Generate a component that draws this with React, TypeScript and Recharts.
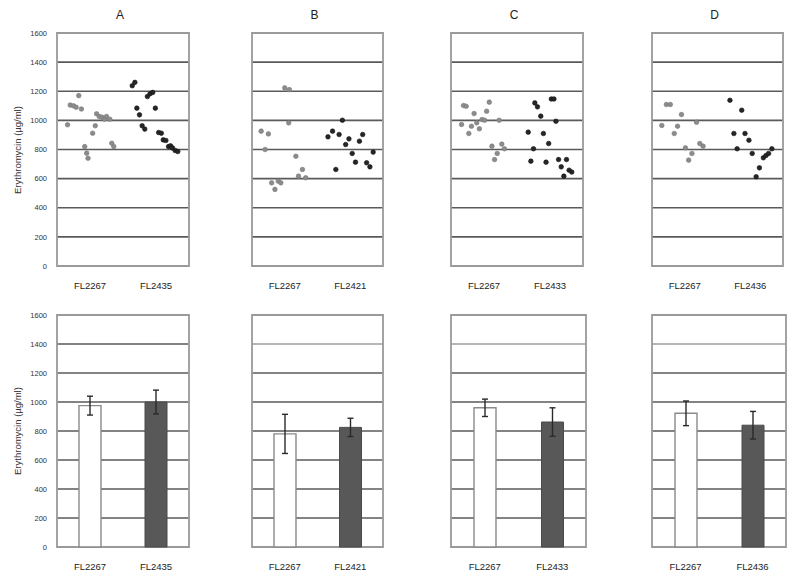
import React from 'react';
import {
  ScatterChart, Scatter, BarChart, Bar, Cell, ErrorBar, XAxis, YAxis,
  CartesianGrid, ReferenceArea,
} from 'recharts';

// ---------- data ----------
const panelTitles = ['A', 'B', 'C', 'D'];
const refStrain = 'FL2267';
const testStrains = ['FL2435', 'FL2421', 'FL2433', 'FL2436'];
const yTicks = [0, 200, 400, 600, 800, 1000, 1200, 1400, 1600];
const yLabel = 'Erythromycin (µg/ml)';

// individual measurements: x = horizontal jitter position (0-100), y = value
const pointsA_ref = [
  { x: 8, y: 970 }, { x: 10, y: 1105 }, { x: 12.5, y: 1100 }, { x: 14.5, y: 1090 },
  { x: 16.5, y: 1170 }, { x: 18.5, y: 1078 }, { x: 21, y: 820 }, { x: 22.5, y: 775 },
  { x: 23.5, y: 740 }, { x: 27, y: 912 }, { x: 29, y: 963 }, { x: 30, y: 1045 },
  { x: 32, y: 1027 }, { x: 34, y: 1022 }, { x: 36, y: 1008 }, { x: 37.5, y: 1027 },
  { x: 40, y: 1008 }, { x: 41.5, y: 843 }, { x: 43, y: 820 },
];
const pointsA_test = [
  { x: 57, y: 1238 }, { x: 59, y: 1261 }, { x: 60.5, y: 1084 }, { x: 62.5, y: 1038 },
  { x: 64.5, y: 963 }, { x: 66.5, y: 940 }, { x: 68.5, y: 1164 }, { x: 70.5, y: 1183 },
  { x: 72.5, y: 1192 }, { x: 74.5, y: 1084 }, { x: 77, y: 917 }, { x: 79, y: 912 },
  { x: 80.5, y: 866 }, { x: 82.5, y: 862 }, { x: 84.5, y: 820 }, { x: 86, y: 825 },
  { x: 87.5, y: 811 }, { x: 89.5, y: 793 }, { x: 91.5, y: 786 },
];
const pointsB_ref = [
  { x: 7, y: 926 }, { x: 10, y: 800 }, { x: 12.5, y: 907 }, { x: 15, y: 571 },
  { x: 17.5, y: 526 }, { x: 20, y: 583 }, { x: 22, y: 571 }, { x: 25, y: 1223 },
  { x: 28.5, y: 1211 }, { x: 28, y: 983 }, { x: 33.5, y: 754 }, { x: 35.5, y: 617 },
  { x: 38.5, y: 663 }, { x: 41, y: 606 },
];
const pointsB_test = [
  { x: 58, y: 887 }, { x: 61.5, y: 926 }, { x: 64, y: 663 }, { x: 66.5, y: 903 },
  { x: 69, y: 1001 }, { x: 71.5, y: 834 }, { x: 74, y: 873 }, { x: 76.5, y: 773 },
  { x: 79, y: 713 }, { x: 82, y: 857 }, { x: 84.5, y: 903 }, { x: 87.5, y: 709 },
  { x: 90, y: 681 }, { x: 92.5, y: 782 },
];
const pointsC_ref = [
  { x: 8, y: 972 }, { x: 9.5, y: 1102 }, { x: 11.5, y: 1097 }, { x: 13.5, y: 910 },
  { x: 15.5, y: 960 }, { x: 17.5, y: 1047 }, { x: 19.5, y: 983 }, { x: 21.5, y: 942 },
  { x: 23.5, y: 1006 }, { x: 25.5, y: 1001 }, { x: 27, y: 1063 }, { x: 29, y: 1125 },
  { x: 31, y: 823 }, { x: 33, y: 731 }, { x: 35, y: 773 }, { x: 36.5, y: 1001 },
  { x: 38.5, y: 837 }, { x: 40.5, y: 805 },
];
const pointsC_test = [
  { x: 58.5, y: 919 }, { x: 60.5, y: 720 }, { x: 62.5, y: 805 }, { x: 63.5, y: 1120 },
  { x: 65.5, y: 1093 }, { x: 68, y: 1029 }, { x: 70, y: 910 }, { x: 72, y: 713 },
  { x: 74, y: 841 }, { x: 76, y: 1147 }, { x: 78, y: 1147 }, { x: 79.5, y: 994 },
  { x: 81.5, y: 731 }, { x: 83.5, y: 681 }, { x: 85.5, y: 617 }, { x: 87.5, y: 731 },
  { x: 89.5, y: 658 }, { x: 91.5, y: 645 },
];
const pointsD_ref = [
  { x: 7.5, y: 965 }, { x: 11, y: 1109 }, { x: 14, y: 1109 }, { x: 17, y: 910 },
  { x: 19.5, y: 960 }, { x: 22.5, y: 1040 }, { x: 25.5, y: 811 }, { x: 28, y: 727 },
  { x: 30.5, y: 773 }, { x: 34, y: 987 }, { x: 36.5, y: 841 }, { x: 39, y: 823 },
];
const pointsD_test = [
  { x: 59.5, y: 1138 }, { x: 62.5, y: 910 }, { x: 65, y: 805 }, { x: 68.5, y: 1070 },
  { x: 71, y: 910 }, { x: 74, y: 864 }, { x: 76.5, y: 773 }, { x: 79.5, y: 613 },
  { x: 82, y: 674 }, { x: 85, y: 743 }, { x: 87, y: 759 }, { x: 89, y: 773 },
  { x: 91.5, y: 805 },
];
const refPoints = [pointsA_ref, pointsB_ref, pointsC_ref, pointsD_ref];
const testPoints = [pointsA_test, pointsB_test, pointsC_test, pointsD_test];

// means and error (±)
const refMeans = [975, 780, 960, 922];
const refErrors = [65, 135, 60, 85];
const testMeans = [1000, 825, 862, 840];
const testErrors = [82, 63, 98, 95];

// ---------- layout ----------
const FONT = '"Liberation Sans", Arial, sans-serif';
const plotLefts = [57, 252, 451, 652];
const topWidths = [132, 131, 132, 131];
const bottomWidths = [132, 131, 135, 134];
const AXIS_W = 40;
const LEFT_M = 57 - AXIS_W;

const GRID_DARK = '#5a5a5a';
const GRID_LIGHT = '#9e9e9e';
const FRAME = '#9a9a9a';

function makeGrid(plotTop: number, plotH: number, lightTop: boolean) {
  return (props: any) => {
    const { x1, x2, y1 } = props;
    const k = `h-${Math.round(y1)}`;
    if (Math.abs(y1 - plotTop) < 1.5 || Math.abs(y1 - (plotTop + plotH)) < 1.5) {
      return <g key={k} />;
    }
    const isTop = Math.abs(y1 - (plotTop + plotH / 8)) < 2;
    const stroke = isTop && lightTop ? GRID_LIGHT : GRID_DARK;
    return <line key={k} x1={x1} x2={x2} y1={y1} y2={y1} stroke={stroke} strokeWidth={1.6} />;
  };
}

const emptyTick = (p: any) => <g key={`et-${p.index}`} />;
const yTickStyle = { fontSize: 7.5, fill: '#333', fontFamily: FONT };

const dotShape = (fill: string, stroke: string) => (p: any) => (
  <circle cx={p.cx} cy={p.cy} r={2.3} fill={fill} stroke={stroke} strokeWidth={0.6} />
);

function TopPanel({ i }: { i: number }) {
  const w = topWidths[i];
  const H = 290;
  const mTop = 33;
  const plotH = 233;
  const labels: Record<number, string> = { 25: refStrain, 75: testStrains[i] };
  return (
    <div style={{ position: 'absolute', left: plotLefts[i] - 57, top: 0 }}>
      <ScatterChart width={57 + w + 8} height={H}
        margin={{ top: mTop, right: 8, left: LEFT_M, bottom: 4 }}>
        <CartesianGrid vertical={false} horizontal={makeGrid(mTop, plotH, false)} />
        <XAxis type="number" dataKey="x" domain={[0, 100]} ticks={[25, 75]}
          tickFormatter={(v: number) => labels[v] || ''} height={20}
          axisLine={false} tickLine={false} tickMargin={10}
          tick={{ fontSize: 9.5, fill: '#222', fontFamily: FONT }} />
        <YAxis type="number" dataKey="y" domain={[0, 1600]} ticks={yTicks} width={AXIS_W}
          axisLine={false} tickLine={false} tickMargin={4}
          tick={i === 0 ? yTickStyle : emptyTick} />
        <ReferenceArea y1={0} y2={1600} fill="none" stroke={FRAME} strokeWidth={1.8} ifOverflow="visible" />
        <Scatter data={refPoints[i]} isAnimationActive={false}
          shape={dotShape('#8c8c8c', '#777')} />
        <Scatter data={testPoints[i]} isAnimationActive={false}
          shape={dotShape('#262626', '#111')} />
      </ScatterChart>
    </div>
  );
}

function BottomPanel({ i }: { i: number }) {
  const w = bottomWidths[i];
  const H = 294;
  const mTop = 25;
  const plotH = 232;
  const data = [
    { name: refStrain, value: refMeans[i], err: refErrors[i] },
    { name: testStrains[i], value: testMeans[i], err: testErrors[i] },
  ];
  return (
    <div style={{ position: 'absolute', left: plotLefts[i] - 57, top: 290 }}>
      <BarChart width={57 + w + 8} height={H} data={data}
        margin={{ top: mTop, right: 8, left: LEFT_M, bottom: 17 }}>
        <CartesianGrid vertical={false} horizontal={makeGrid(mTop, plotH, i !== 0)} />
        <XAxis dataKey="name" height={20} axisLine={false} tickLine={false} tickMargin={10}
          tick={{ fontSize: 9.5, fill: '#222', fontFamily: FONT }} />
        <YAxis type="number" domain={[0, 1600]} ticks={yTicks} width={AXIS_W}
          axisLine={false} tickLine={false} tickMargin={4}
          tick={i === 0 ? yTickStyle : emptyTick} />
        <Bar dataKey="value" barSize={22} isAnimationActive={false}>
          <Cell fill="#ffffff" stroke="#8a8a8a" strokeWidth={1.4} />
          <Cell fill="#585858" stroke="#4a4a4a" strokeWidth={1} />
          <ErrorBar dataKey="err" width={3} stroke="#2a2a2a" strokeWidth={1.4} />
        </Bar>
        <ReferenceArea y1={0} y2={1600} fill="none" stroke={FRAME} strokeWidth={1.8} ifOverflow="visible" />
      </BarChart>
    </div>
  );
}

export default function App() {
  return (
    <div style={{ position: 'absolute', left: 0, top: 0, width: 800, height: 584, background: '#fff', fontFamily: FONT, overflow: 'hidden' }}>
      {panelTitles.map((t, i) => (
        <div key={t} style={{
          position: 'absolute', top: 7, left: plotLefts[i] + topWidths[i] / 2 - 3 - 20, width: 40,
          textAlign: 'center', fontSize: 12, color: '#222', lineHeight: '16px',
        }}>{t}</div>
      ))}
      {[150, 431].map((cy) => (
        <div key={cy} style={{
          position: 'absolute', left: 18 - 80, top: cy - 7, width: 160, height: 14,
          lineHeight: '14px', textAlign: 'center', fontSize: 9.5, color: '#333',
          transform: 'rotate(-90deg)',
        }}>{yLabel}</div>
      ))}
      {[0, 1, 2, 3].map((i) => <TopPanel key={`t${i}`} i={i} />)}
      {[0, 1, 2, 3].map((i) => <BottomPanel key={`b${i}`} i={i} />)}
    </div>
  );
}
